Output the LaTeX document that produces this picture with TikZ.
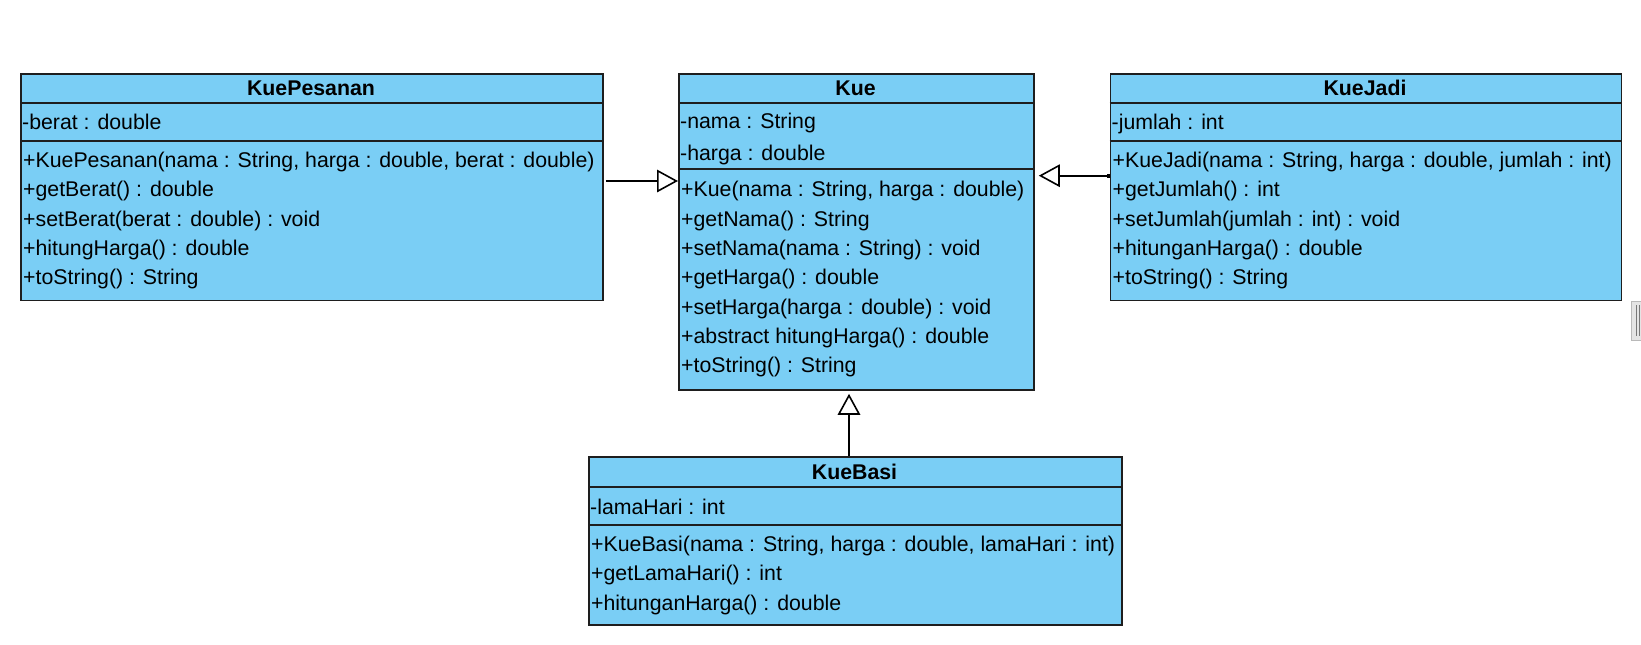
\documentclass[tikz,border=0pt]{standalone}
\usepackage{fontspec}
\setmainfont{Liberation Sans}
\usetikzlibrary{arrows.meta}
\definecolor{clsfill}{RGB}{122,206,245}
\definecolor{clsline}{RGB}{30,30,30}
\definecolor{sbline}{RGB}{185,185,185}
\definecolor{sbfill}{RGB}{228,228,228}
\definecolor{sbgrip}{RGB}{120,120,120}
\tikzset{
  classbox/.style={draw=clsline, fill=clsfill, line width=1.8pt, inner sep=0pt, anchor=north west},
  sepline/.style={draw=clsline, line width=1.8pt},
  rowtext/.style={anchor=base west, inner sep=0pt, font=\fontsize{21.3}{25}\selectfont},
  titletext/.style={anchor=base, inner sep=0pt, font=\fontsize{21.3}{25}\selectfont\bfseries},
  gen/.style={draw=black, line width=1.6pt, -{Triangle[open, length=21pt, width=22.5pt, fill=white]}}
}
\begin{document}
\begin{tikzpicture}[x=1pt,y=-1pt]
\useasboundingbox (0,0) rectangle (1641,645);
% ---- KuePesanan
\node[classbox, minimum width=582pt, minimum height=226.5pt] (kp) at (20,73) {};
\draw[sepline] (kp.west |- 0,103) -- (kp.east |- 0,103);
\draw[sepline] (kp.west |- 0,140.7) -- (kp.east |- 0,140.7);
\node[titletext] (kpt) at (311,95.5) {KuePesanan};
\node[rowtext] (kpa1) at (22,129.3) {-berat : double};
\node[rowtext] (kpm1) at (23,167.5) {+KuePesanan(nama : String, harga : double, berat : double)};
\node[rowtext] (kpm2) at (23,196.8) {+getBerat() : double};
\node[rowtext] (kpm3) at (23,226.1) {+setBerat(berat : double) : void};
\node[rowtext] (kpm4) at (23,255.4) {+hitungHarga() : double};
\node[rowtext] (kpm5) at (23,284.7) {+toString() : String};
% ---- Kue
\node[classbox, minimum width=355pt, minimum height=316pt] (kue) at (678,73) {};
\draw[sepline] (kue.west |- 0,103) -- (kue.east |- 0,103);
\draw[sepline] (kue.west |- 0,169.3) -- (kue.east |- 0,169.3);
\node[titletext] (kuet) at (855.5,95.5) {Kue};
\node[rowtext] (kuea1) at (680,128.8) {-nama : String};
\node[rowtext] (kuea2) at (680,160.2) {-harga : double};
\node[rowtext] (kuem1) at (681,196.8) {+Kue(nama : String, harga : double)};
\node[rowtext] (kuem2) at (681,226.1) {+getNama() : String};
\node[rowtext] (kuem3) at (681,255.4) {+setNama(nama : String) : void};
\node[rowtext] (kuem4) at (681,284.7) {+getHarga() : double};
\node[rowtext] (kuem5) at (681,314.1) {+setHarga(harga : double) : void};
\node[rowtext] (kuem6) at (681,343.4) {+abstract hitungHarga() : double};
\node[rowtext] (kuem7) at (681,372.7) {+toString() : String};
% ---- KueJadi
\node[classbox, minimum width=511pt, minimum height=226.5pt] (kj) at (1109.5,73) {};
\draw[sepline] (kj.west |- 0,103) -- (kj.east |- 0,103);
\draw[sepline] (kj.west |- 0,140.7) -- (kj.east |- 0,140.7);
\node[titletext] (kjt) at (1365,95.5) {KueJadi};
\node[rowtext] (kja1) at (1111.5,129.3) {-jumlah : int};
\node[rowtext] (kjm1) at (1112.5,167.5) {+KueJadi(nama : String, harga : double, jumlah : int)};
\node[rowtext] (kjm2) at (1112.5,196.8) {+getJumlah() : int};
\node[rowtext] (kjm3) at (1112.5,226.1) {+setJumlah(jumlah : int) : void};
\node[rowtext] (kjm4) at (1112.5,255.4) {+hitunganHarga() : double};
\node[rowtext] (kjm5) at (1112.5,284.7) {+toString() : String};
% ---- KueBasi
\node[classbox, minimum width=533pt, minimum height=168pt] (kb) at (588,456) {};
\draw[sepline] (kb.west |- 0,487) -- (kb.east |- 0,487);
\draw[sepline] (kb.west |- 0,525) -- (kb.east |- 0,525);
\node[titletext] (kbt) at (854.5,479.5) {KueBasi};
\node[rowtext] (kba1) at (590,514) {-lamaHari : int};
\node[rowtext] (kbm1) at (591,551.6) {+KueBasi(nama : String, harga : double, lamaHari : int)};
\node[rowtext] (kbm2) at (591,580.9) {+getLamaHari() : int};
\node[rowtext] (kbm3) at (591,610.2) {+hitunganHarga() : double};
% ---- generalisations
\coordinate (kpout) at ([xshift=2pt]kp.east |- 0,181);
\coordinate (kpin) at (kue.west |- 0,181);
\draw[gen] (kpout) -- (kpin);
\coordinate (kjout) at (kj.west |- 0,175.7);
\coordinate (kjin) at ([xshift=4pt]kue.east |- 0,175.7);
\draw[gen] (kjout) -- (kjin);
\fill[black] ([xshift=-3pt]kjout) ++(0,-1.8) rectangle ++(3,3.6);
\coordinate (kbout) at (kb.north -| 849,0);
\coordinate (kbin) at ([yshift=-3pt]kue.south -| 849,0);
\draw[gen] (kbout) -- (kbin);
% ---- scrollbar stub at right edge
\draw[draw=sbline, fill=sbfill, line width=1pt] (1631.5,301) rectangle (1645,340);
\draw[sbgrip, line width=0.8pt] (1636,305) -- (1636,336);
\draw[sbgrip, line width=0.8pt] (1639,305) -- (1639,336);
\end{tikzpicture}
\end{document}
